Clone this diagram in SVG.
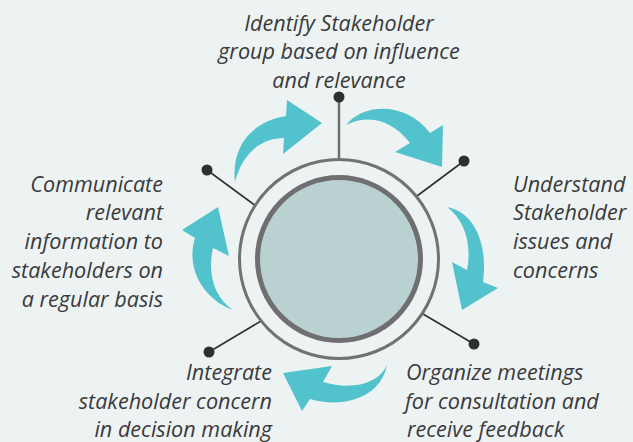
<svg xmlns="http://www.w3.org/2000/svg" width="633" height="442" viewBox="0 0 633 442">
<style>
.t{font-family:"Open Sans",Lato,"Liberation Sans",sans-serif;font-style:italic;font-size:21.6px;fill:#3a3a3c}
.r{text-anchor:end}
.m{text-anchor:middle}
.arrow{fill:#52c3cd}
.dot{fill:#2f2f31}
.ln{stroke:#2f2f31;stroke-width:1.6;fill:none}
</style>
<rect width="633" height="442" fill="#edf3f3"/>
<g id="connectors">
<line class="ln" x1="339" y1="97" x2="339" y2="158" style="stroke:#6d6d6f;stroke-width:2.5"/>
<line class="ln" x1="207" y1="170" x2="256" y2="206"/>
<line class="ln" x1="464" y1="161" x2="417" y2="196"/>
<line class="ln" x1="209" y1="352" x2="261" y2="321"/>
<line class="ln" x1="474" y1="344" x2="423" y2="314"/>
<circle class="dot" cx="339" cy="97" r="5.5"/>
<circle class="dot" cx="207" cy="170" r="5.5"/>
<circle class="dot" cx="464" cy="161" r="5.5"/>
<circle class="dot" cx="209" cy="352" r="5.5"/>
<circle class="dot" cx="474" cy="344" r="5.5"/>
<path class="arrow" d="M235,182 C231,148 250,122 286,116 L287,100 L322,123 L283,154 L284,138 C262,138 243,152 235,182 Z"/>
<path class="arrow" d="M346,125 C362,104 405,100 430,133 L443,125 L442,167 L395,152 L410,143 C393,121 370,113 346,125 Z"/>
<path class="arrow" d="M447,207 C475,212 488,245 483,282 L498,288 L462,310 L452,262 L467,270 C472,245 465,220 447,207 Z"/>
<path class="arrow" d="M387,365 C380,400 340,408 310,399 L302,411 L283,373 L332,366 L323,382 C350,390 378,385 387,365 Z"/>
<path class="arrow" d="M233,310 C205,300 185,270 195,238 L182,230 L218,207 L229,256 L213,248 C207,275 215,298 233,310 Z"/>
</g>
<g id="center">
<circle cx="339" cy="259" r="99.5" fill="none" stroke="#727274" stroke-width="3"/>
<circle cx="339" cy="259" r="81.5" fill="#bad1d2" stroke="#6f6f71" stroke-width="5"/>
</g>
<g id="step1">
<text class="t m" x="339" y="31">Identify Stakeholder</text>
<text class="t m" x="339" y="59">group based on influence</text>
<text class="t m" x="339" y="88">and relevance</text>
</g>
<g id="step2">
<text class="t" x="513" y="192">Understand</text>
<text class="t" x="513" y="220">Stakeholder</text>
<text class="t" x="513" y="249">issues and</text>
<text class="t" x="513" y="278">concerns</text>
</g>
<g id="step3">
<text class="t" x="406" y="380">Organize meetings</text>
<text class="t" x="405" y="409">for consultation and</text>
<text class="t" x="407" y="437">receive feedback</text>
</g>
<g id="step4">
<text class="t r" x="272" y="380">Integrate</text>
<text class="t r" x="272" y="409">stakeholder concern</text>
<text class="t r" x="272" y="437">in decision making</text>
</g>
<g id="step5">
<text class="t r" x="163" y="192">Communicate</text>
<text class="t r" x="163" y="220">relevant</text>
<text class="t r" x="163" y="249">information to</text>
<text class="t r" x="163" y="278">stakeholders on</text>
<text class="t r" x="163" y="307">a regular basis</text>
</g>
</svg>
